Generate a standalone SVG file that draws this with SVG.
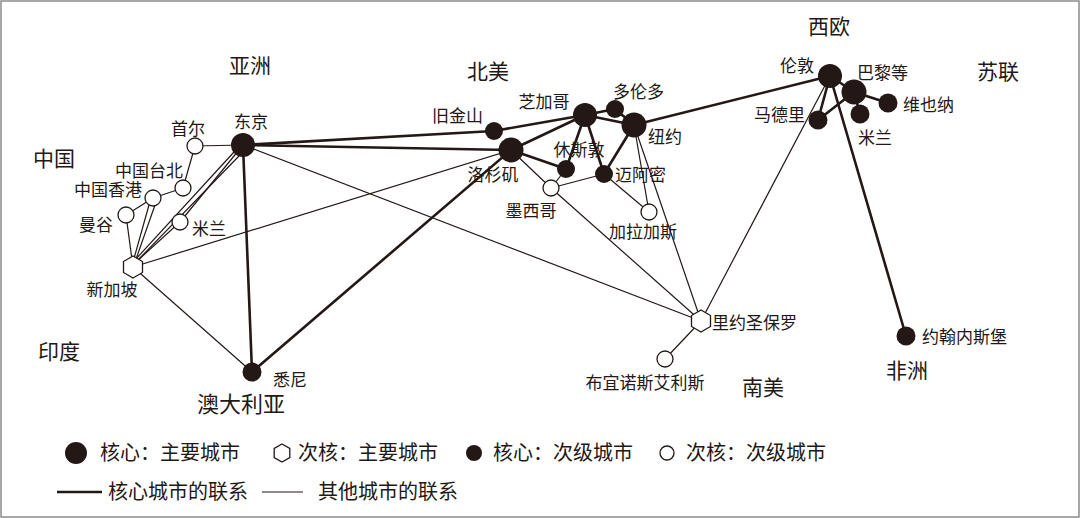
<svg xmlns="http://www.w3.org/2000/svg" xmlns:xlink="http://www.w3.org/1999/xlink" width="1080" height="518" viewBox="0 0 1080 518">
<style>
.k{stroke:#231815;stroke-width:2.6;fill:none;stroke-linecap:round}
.t{stroke:#231815;stroke-width:1.2;fill:none}
.big{fill:#231815}
.sm{fill:#231815}
.op{fill:#fff;stroke:#231815;stroke-width:1.3}
.hx{fill:#fff;stroke:#231815;stroke-width:1.3}
text{font-family:"Noto Sans CJK SC","Noto Sans",sans-serif;fill:#231815}
.city{font-size:17px}
.reg{font-size:21px}
.leg{font-size:20px}
</style>
<defs>
<polygon id="hex" points="0,-11 9.5,-5.5 9.5,5.5 0,11 -9.5,5.5 -9.5,-5.5"/>
<polygon id="hexs" points="0,-9 7.8,-4.5 7.8,4.5 0,9 -7.8,4.5 -7.8,-4.5"/>
</defs>
<rect x="1" y="1" width="1078" height="516" fill="#fff" stroke="#8a8a8a" stroke-width="1.5"/>

<g id="connectors">
<!-- thin -->
<line class="t" x1="243" y1="145" x2="195" y2="146"/>
<line class="t" x1="195" y1="146" x2="183" y2="188"/>
<line class="t" x1="183" y1="188" x2="153" y2="198"/>
<line class="t" x1="153" y1="198" x2="126" y2="215"/>
<line class="t" x1="126" y1="215" x2="133" y2="267"/>
<line class="t" x1="133" y1="262" x2="149" y2="205"/>
<line class="t" x1="135" y1="262" x2="155" y2="205"/>
<line class="t" x1="135" y1="260" x2="234" y2="152"/>
<line class="t" x1="137" y1="261" x2="239" y2="156"/>
<line class="t" x1="136" y1="262" x2="180" y2="222"/>
<line class="t" x1="180" y1="222" x2="243" y2="145"/>
<line class="t" x1="133" y1="267" x2="511" y2="150"/>
<line class="t" x1="133" y1="267" x2="252" y2="372"/>
<line class="t" x1="243" y1="145" x2="701" y2="321"/>
<line class="t" x1="511" y1="150" x2="551" y2="188"/>
<line class="t" x1="551" y1="188" x2="566" y2="169"/>
<line class="t" x1="551" y1="188" x2="604" y2="174"/>
<line class="t" x1="551" y1="188" x2="701" y2="321"/>
<line class="t" x1="604" y1="174" x2="649" y2="212"/>
<line class="t" x1="634" y1="125" x2="649" y2="212"/>
<line class="t" x1="634" y1="125" x2="701" y2="321"/>
<line class="t" x1="830" y1="76" x2="701" y2="321"/>
<line class="t" x1="701" y1="321" x2="665" y2="359"/>
<!-- thick -->
<line class="k" x1="243" y1="145" x2="494" y2="131"/>
<line class="k" x1="243" y1="145" x2="511" y2="150"/>
<line class="k" x1="243" y1="145" x2="252" y2="372"/>
<line class="k" x1="252" y1="372" x2="511" y2="150"/>
<line class="k" x1="494" y1="131" x2="585" y2="115"/>
<line class="k" x1="511" y1="150" x2="585" y2="115"/>
<line class="k" x1="511" y1="150" x2="566" y2="169"/>
<line class="k" x1="585" y1="115" x2="615" y2="109"/>
<line class="k" x1="585" y1="115" x2="634" y2="125"/>
<line class="k" x1="615" y1="109" x2="634" y2="125"/>
<line class="k" x1="585" y1="115" x2="566" y2="169"/>
<line class="k" x1="585" y1="115" x2="604" y2="174"/>
<line class="k" x1="634" y1="125" x2="604" y2="174"/>
<line class="k" x1="634" y1="125" x2="830" y2="76"/>
<line class="k" x1="830" y1="76" x2="854" y2="92"/>
<line class="k" x1="830" y1="76" x2="818" y2="120"/>
<line class="k" x1="818" y1="120" x2="854" y2="92"/>
<line class="k" x1="854" y1="92" x2="888" y2="103"/>
<line class="k" x1="854" y1="92" x2="860" y2="114"/>
<line class="k" x1="830" y1="76" x2="906" y2="336"/>
</g>

<g id="n-tokyo"><circle class="big" cx="243" cy="145" r="12"/><text class="city" x="251" y="128" text-anchor="middle">东京</text></g>
<g id="n-seoul"><circle class="op" cx="195" cy="146" r="8"/><text class="city" x="188" y="135" text-anchor="middle">首尔</text></g>
<g id="n-taipei"><circle class="op" cx="183" cy="188" r="8"/><text class="city" x="183" y="177" text-anchor="end">中国台北</text></g>
<g id="n-hongkong"><circle class="op" cx="153" cy="198" r="8"/><text class="city" x="142" y="196" text-anchor="end">中国香港</text></g>
<g id="n-bangkok"><circle class="op" cx="126" cy="215" r="8"/><text class="city" x="113" y="231" text-anchor="end">曼谷</text></g>
<g id="n-milan-asia"><circle class="op" cx="180" cy="222" r="8"/><text class="city" x="192" y="235">米兰</text></g>
<g id="n-singapore"><use xlink:href="#hex" href="#hex" class="hx" x="133" y="267"/><text class="city" x="112" y="296" text-anchor="middle">新加坡</text></g>
<g id="n-sydney"><circle class="sm" cx="252" cy="372" r="9.5"/><text class="city" x="273" y="386">悉尼</text></g>
<g id="n-sf"><circle class="sm" cx="494" cy="131" r="9"/><text class="city" x="483" y="122" text-anchor="end">旧金山</text></g>
<g id="n-la"><circle class="big" cx="511" cy="150" r="12.5"/><text class="city" x="493" y="181" text-anchor="middle">洛杉矶</text></g>
<g id="n-chicago"><circle class="big" cx="585" cy="115" r="12"/><text class="city" x="544" y="108" text-anchor="middle">芝加哥</text></g>
<g id="n-toronto"><circle class="sm" cx="615" cy="109" r="9"/><text class="city" x="613" y="98">多伦多</text></g>
<g id="n-ny"><circle class="big" cx="634" cy="125" r="12.5"/><text class="city" x="648" y="143">纽约</text></g>
<g id="n-houston"><circle class="sm" cx="566" cy="169" r="9"/><text class="city" x="579" y="156" text-anchor="middle">休斯敦</text></g>
<g id="n-miami"><circle class="sm" cx="604" cy="174" r="9"/><text class="city" x="615" y="181">迈阿密</text></g>
<g id="n-mexico"><circle class="op" cx="551" cy="188" r="8"/><text class="city" x="531" y="217" text-anchor="middle">墨西哥</text></g>
<g id="n-caracas"><circle class="op" cx="649" cy="212" r="8"/><text class="city" x="643" y="238" text-anchor="middle">加拉加斯</text></g>
<g id="n-london"><circle class="big" cx="830" cy="76" r="12"/><text class="city" x="797" y="72" text-anchor="middle">伦敦</text></g>
<g id="n-paris"><circle class="big" cx="854" cy="92" r="12.5"/><text class="city" x="857" y="79">巴黎等</text></g>
<g id="n-madrid"><circle class="sm" cx="818" cy="120" r="9.5"/><text class="city" x="805" y="121" text-anchor="end">马德里</text></g>
<g id="n-vienna"><circle class="sm" cx="888" cy="103" r="9.5"/><text class="city" x="903" y="111">维也纳</text></g>
<g id="n-milan-eu"><circle class="sm" cx="860" cy="114" r="9.5"/><text class="city" x="858" y="144">米兰</text></g>
<g id="n-rio"><use xlink:href="#hex" href="#hex" class="hx" x="701" y="321"/><text class="city" x="712" y="329">里约圣保罗</text></g>
<g id="n-ba"><circle class="op" cx="665" cy="359" r="8"/><text class="city" x="645" y="389" text-anchor="middle">布宜诺斯艾利斯</text></g>
<g id="n-joburg"><circle class="sm" cx="906" cy="336" r="9.5"/><text class="city" x="922" y="343">约翰内斯堡</text></g>

<g id="regions">
<text class="reg" x="250" y="73" text-anchor="middle">亚洲</text>
<text class="reg" x="488" y="79" text-anchor="middle">北美</text>
<text class="reg" x="829" y="34" text-anchor="middle">西欧</text>
<text class="reg" x="998" y="79" text-anchor="middle">苏联</text>
<text class="reg" x="54" y="166" text-anchor="middle">中国</text>
<text class="reg" x="59" y="359" text-anchor="middle">印度</text>
<text class="reg" x="241" y="412" text-anchor="middle" style="font-size:22px">澳大利亚</text>
<text class="reg" x="763" y="395" text-anchor="middle">南美</text>
<text class="reg" x="907" y="378" text-anchor="middle">非洲</text>
</g>

<g id="legend">
<circle class="big" cx="76" cy="453" r="11"/>
<text class="leg" x="100" y="460">核心：主要城市</text>
<use xlink:href="#hexs" href="#hexs" class="hx" x="282" y="453"/>
<text class="leg" x="298" y="460">次核：主要城市</text>
<circle class="sm" cx="474" cy="453" r="8"/>
<text class="leg" x="493" y="460">核心：次级城市</text>
<circle class="op" cx="667" cy="453" r="7"/>
<text class="leg" x="686" y="460">次核：次级城市</text>
<line class="k" x1="57" y1="492" x2="102" y2="492" style="stroke-linecap:butt"/>
<text class="leg" x="108" y="499">核心城市的联系</text>
<line class="t" x1="262" y1="492" x2="303" y2="492"/>
<text class="leg" x="318" y="499">其他城市的联系</text>
</g>
</svg>
